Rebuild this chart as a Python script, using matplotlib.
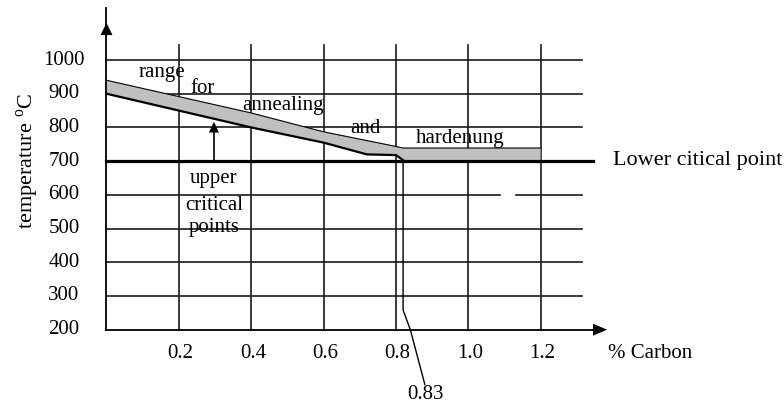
import matplotlib
matplotlib.use('Agg')
from matplotlib import pyplot as plt
import numpy as np

plt.rcParams['font.family'] = ['Liberation Serif', 'DejaVu Serif']
plt.rcParams['mathtext.fontset'] = 'custom'
plt.rcParams['mathtext.rm'] = 'Liberation Serif'

# data
carbon_ticks = [0.2, 0.4, 0.6, 0.8, 1.0, 1.2]
carbon_labels = ['0.2', '0.4', '0.6', '0.8', '1.0', '1.2']
temp_ticks = [200, 300, 400, 500, 600, 700, 800, 900, 1000]
temp_labels = ['200', '300', '400', '500', '600', '700', '800', '900', '1000']

# upper edge of the annealing/hardening range
upper_c = [0.0, 0.4, 0.6, 0.78, 0.82, 1.2]
upper_t = [940, 843, 787, 748, 739, 739]
# upper critical points line, then lower critical
lower_c = [0.0, 0.4, 0.6, 0.72, 0.8, 0.82, 1.2]
lower_t = [900, 800, 755, 720, 718, 703, 703]

lower_critical = 700
eutectoid = 0.82   # drawn where the 0.83 mark sits

# pixel scale of the picture
PX_X = 361.7      # px per 1 % carbon
PX_Y = 0.3371     # px per 1 degree

fig = plt.figure(figsize=(7.84, 4.07), dpi=100)
ax = fig.add_axes([0, 0, 1, 1])
ax.set_xlim(-106.5 / PX_X, (784 - 106.5) / PX_X)
ax.set_ylim(200 - (407 - 329.7) / PX_Y, 200 + 329.7 / PX_Y)
ax.axis('off')

gc = '#1a1a1a'
# horizontal grid
x_end = 1.315
for t in temp_ticks[1:]:
    if t == 600:
        ax.plot([0, 1.088], [t, t], color=gc, lw=1.2)
        ax.plot([1.132, x_end], [t, t], color=gc, lw=1.2)
    elif t != lower_critical:
        ax.plot([0, x_end], [t, t], color=gc, lw=1.2)
# vertical grid
for c in carbon_ticks:
    ax.plot([c, c], [200, 1045], color=gc, lw=1.2)

# range band
band_x = upper_c + lower_c[::-1]
band_y = upper_t + lower_t[::-1]
ax.fill(band_x, band_y, color='#c0c0c0', lw=0, zorder=2)
ax.plot(upper_c, upper_t, color='k', lw=0.8, zorder=3)
ax.plot(lower_c[:-1], lower_t[:-1], color='k', lw=1.6, zorder=3)

# lower critical line
ax.plot([0, 1.345], [lower_critical, lower_critical], color='k', lw=2.3, zorder=4)

# axes with arrows
ax.plot([0, 1.345], [200, 200], color='k', lw=1.3, zorder=4)
ax.plot([0, 0], [200, 1154], color='k', lw=1.3, zorder=4)
hw = 6 / PX_Y
ax.fill([1.345, 1.345, 1.384], [200 - hw, 200 + hw, 200], color='k', lw=0, zorder=5)
hw = 6 / PX_X
ax.fill([-hw, hw, 0], [1074, 1074, 1110], color='k', lw=0, zorder=5)

# arrow to upper critical points
ax.plot([0.297, 0.297], [lower_critical, 790], color='k', lw=1.2, zorder=4)
hw = 5 / PX_X
ax.fill([0.297 - hw, 0.297 + hw, 0.297], [785, 785, 817], color='k', lw=0, zorder=5)

# 0.83 leader
ax.plot([eutectoid, eutectoid, 0.84, 0.88], [lower_critical, 258, 200, 38],
        color='k', lw=1.0, zorder=4)

fs = 15
ax.text(0.883, 9, '0.83', ha='center', va='center', fontsize=fs)
for t, lab in zip(temp_ticks, temp_labels):
    ax.text(-0.1175, t, lab, ha='center', va='center', fontsize=fs)
for c, lab in zip(carbon_ticks, carbon_labels):
    ax.text(c + 0.005, 130, lab, ha='center', va='center', fontsize=fs)
ax.text(1.386, 130, '% Carbon', ha='left', va='center', fontsize=fs)
ax.text(-0.218, 700, 'temperature $^{\\rm o}$C', rotation=90,
        ha='center', va='center', fontsize=16)

ax.text(0.088, 950, 'range', fontsize=fs, zorder=6)
ax.text(0.233, 902, 'for', fontsize=fs, zorder=6)
ax.text(0.375, 852, 'annealing', fontsize=fs, zorder=6)
ax.text(0.673, 783, 'and', fontsize=fs, zorder=6)
ax.text(0.856, 754, 'hardenung', fontsize=fs, zorder=6)
ax.text(1.40, 689, 'Lower citical point', fontsize=16)
ax.text(0.297, 635, 'upper', ha='center', fontsize=fs, zorder=6)
ax.text(0.297, 555, 'critical', ha='center', fontsize=fs, zorder=6)
ax.text(0.297, 490, 'points', ha='center', fontsize=fs, zorder=6)

fig.savefig('out.png', dpi=100, facecolor='white')
